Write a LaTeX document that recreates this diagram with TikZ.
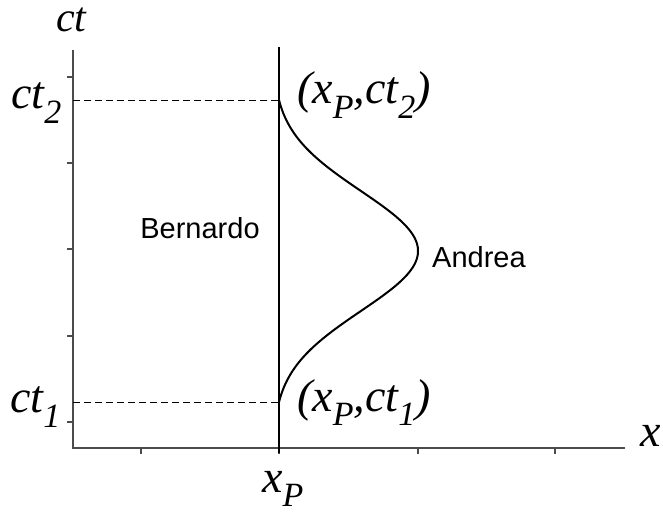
\documentclass[tikz,border=0pt]{standalone}
\usepackage{fontspec}
\setmainfont{Liberation Serif}
\newfontfamily\sansfont{Liberation Sans}
\usepackage{tikz}
\usetikzlibrary{positioning}

\newcommand{\sub}[1]{\raisebox{-0.32em}{\fontsize{34}{34}\selectfont #1}}

\begin{document}
\begin{tikzpicture}[x=1pt, y=1pt,
    asse/.style={line width=1.4pt, draw=black!70},
    tacca/.style={line width=1.2pt, draw=black!70},
    lbl/.style={font=\fontsize{46}{50}\selectfont\itshape, inner sep=0pt, anchor=base west},
    nome/.style={font=\fontsize{29}{32}\sansfont, inner sep=0pt}]
    \useasboundingbox (-73,-71) rectangle (590,448);

    % Assi
    \coordinate (O) at (0,0);
    \coordinate (ytop) at (0,398);
    \coordinate (xend) at (552,0);
    \draw[asse] (ytop) -- (O) -- (xend);
    \foreach \y in {26,112,199,285,371}
        \draw[tacca] (-6,\y) -- (0,\y);
    \foreach \x in {68,206,345,482}
        \draw[tacca] (\x,0) -- (\x,-6);
    \node[lbl, font=\fontsize{42}{44}\selectfont\itshape, text height=20pt] (ct) at (-17,416) {ct};
    \node[lbl] (xlab) at (567,2) {x};
    \node[lbl] (xp) at (189,-44) {x\sub{P}};

    % Linea di universo di Bernardo
    \coordinate (Btop) at (206,401);
    \coordinate (Bbot) at (206,-5);
    \draw[line width=2.6pt] (Bbot) -- (Btop);
    \coordinate (P1) at (206,46);
    \coordinate (P2) at (206,348);

    % Eventi
    \draw[dashed, line width=0.8pt, dash pattern=on 7pt off 4pt] (0,348) -- (P2);
    \draw[dashed, line width=0.8pt, dash pattern=on 7pt off 4pt] (0,46) -- (P1);
    \node[lbl] (ct2) at (-62,339) {ct\sub{2}};
    \node[lbl] (ct1) at (-63,35) {ct\sub{1}};
    \node[lbl] (e2) at (224,344) {(x\sub{P},ct\sub{2})};
    \node[lbl] (e1) at (224,37) {(x\sub{P},ct\sub{1})};

    % Linea di universo di Andrea
    \draw[line width=2pt] plot[domain=46:348, samples=120, variable=\t]
        ({206+139*(exp(-((\t-197)/60)^2/2)-0.042)/0.958}, \t);
    \node[nome] (bern) at (127,220) {Bernardo};
    \node[nome] (andr) at (406,191) {Andrea};
\end{tikzpicture}
\end{document}
